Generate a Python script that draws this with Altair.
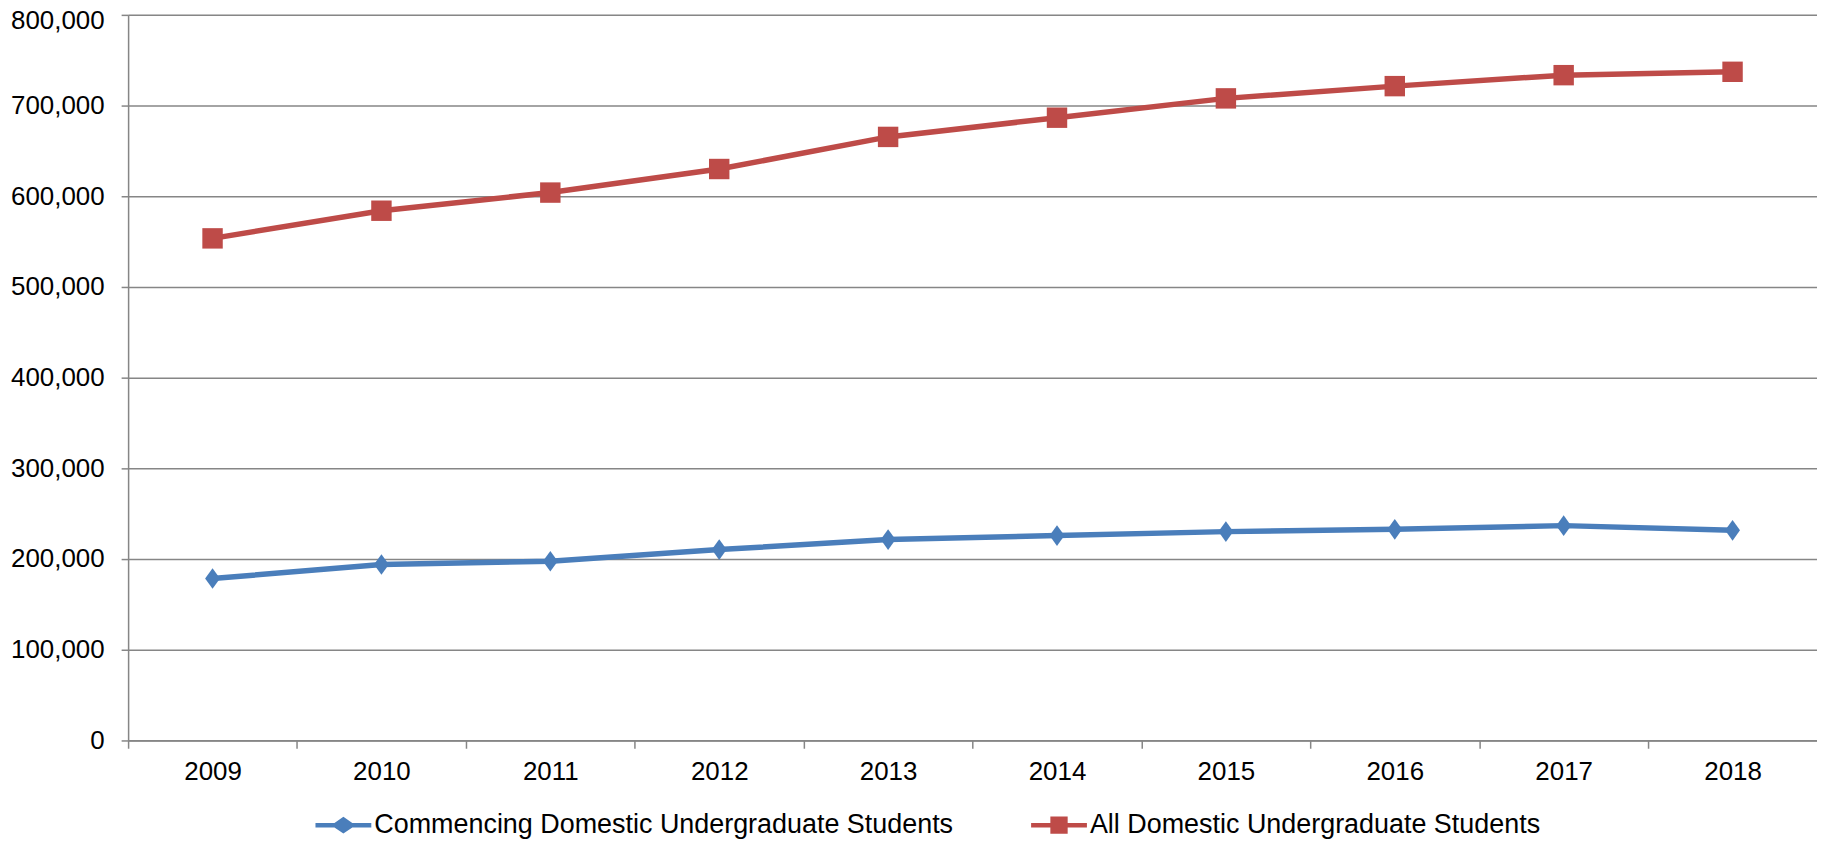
import altair as alt
import pandas as pd

years = ["2009", "2010", "2011", "2012", "2013", "2014", "2015", "2016", "2017", "2018"]
commencing = [178400, 193800, 197400, 210300, 221300, 225700, 230100, 232600, 236700, 231500]
all_students = [553500, 584000, 604000, 630000, 665400, 686600, 707900, 721400, 733500, 737200]
series_names = ["Commencing Domestic Undergraduate Students", "All Domestic Undergraduate Students"]
colors = ["#4A7EBB", "#BE4B48"]
y_ticks = [0, 100000, 200000, 300000, 400000, 500000, 600000, 700000, 800000]

rows = []
for i, y in enumerate(years):
    rows.append({"year": y, "series": series_names[0], "value": commencing[i]})
    rows.append({"year": y, "series": series_names[1], "value": all_students[i]})
df = pd.DataFrame(rows)

FONT = "Liberation Sans"
GRID = "#868686"

x_enc = alt.X("year:N", sort=years,
              scale=alt.Scale(type="band", paddingInner=0, paddingOuter=0),
              axis=alt.Axis(title=None, labelAngle=0, tickBand="extent", tickSize=8,
                            labelPadding=10, labelFontSize=26, labelFont=FONT,
                            labelColor="#000000", domainColor=GRID, domainWidth=1.5,
                            tickColor=GRID, tickWidth=1.5, grid=False))
y_enc = alt.Y("value:Q", scale=alt.Scale(domain=[0, 800000], nice=False),
              axis=alt.Axis(title=None, values=y_ticks, format=",.0f", tickSize=7,
                            labelPadding=17, labelFontSize=26, labelFont=FONT,
                            labelColor="#000000", domainColor=GRID, domainWidth=1.5,
                            labelOffset={"condition": {"test": "datum.value >= 800000", "value": 5.5},
                                         "value": 0},
                            tickColor=GRID, tickWidth=1.5, grid=True,
                            gridColor=GRID, gridWidth=1.5))
color_scale = alt.Scale(domain=series_names, range=colors)

base = alt.Chart(df)

lines = base.mark_line(strokeWidth=5.5).encode(
    x=x_enc, y=y_enc,
    color=alt.Color("series:N", scale=color_scale, legend=None),
)

diamond_path = "M0,-1 L0.72,0 L0,1 L-0.72,0 Z"
pts_blue = base.transform_filter(alt.datum.series == series_names[0]).mark_point(
    shape=diamond_path, size=430, filled=True, opacity=1).encode(
    x=x_enc, y=y_enc,
    color=alt.Color("series:N", scale=color_scale, legend=None),
)
pts_red = base.transform_filter(alt.datum.series == series_names[1]).mark_point(
    shape="square", size=420, filled=True, opacity=1).encode(
    x=x_enc, y=y_enc,
    color=alt.Color("series:N", scale=color_scale, legend=None),
)

leg_diamond = "M-1,-0.08 L-0.32,-0.08 L0,-0.3 L0.32,-0.08 L1,-0.08 L1,0.08 L0.32,0.08 L0,0.3 L-0.32,0.08 L-1,0.08 Z"
leg_square = "M-1,-0.08 L-0.31,-0.08 L-0.31,-0.31 L0.31,-0.31 L0.31,-0.08 L1,-0.08 L1,0.08 L0.31,0.08 L0.31,0.31 L-0.31,0.31 L-0.31,0.08 L-1,0.08 Z"

leg = alt.Legend(title=None, orient="none", direction="horizontal",
                 legendX=188, legendY=785, symbolSize=3136,
                 labelFontSize=27, labelFont=FONT, labelColor="#000000",
                 labelLimit=2000, labelOffset=3, columnPadding=78,
                 padding=0, symbolStrokeWidth=0, symbolOpacity=1)

legend_layer = base.transform_filter("false").mark_point(filled=True, opacity=1).encode(
    x=x_enc, y=y_enc,
    color=alt.Color("series:N", scale=color_scale, legend=leg),
    shape=alt.Shape("series:N", scale=alt.Scale(domain=series_names, range=[leg_diamond, leg_square]),
                    legend=leg),
)

chart = alt.layer(lines, pts_blue, pts_red, legend_layer).resolve_legend(
    color="independent", shape="independent"
).properties(
    width=1694.5, height=727.8,
    autosize=alt.AutoSizeParams(type="none"),
    padding={"left": 120.5, "top": 5.5, "right": 0, "bottom": 104},
).configure_view(stroke=None).configure(background="#FFFFFF")

chart.save("out.html", embed_options={"renderer": "svg", "actions": False})
